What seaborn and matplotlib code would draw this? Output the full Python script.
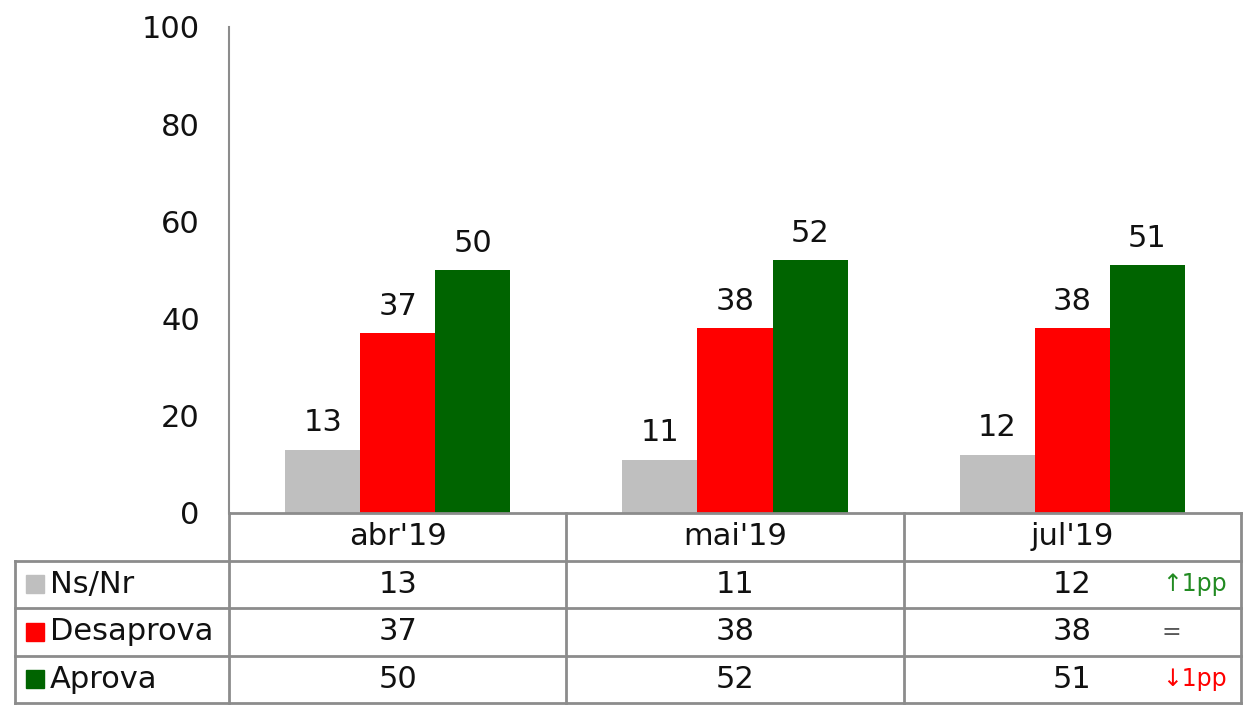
import pandas as pd
import matplotlib.pyplot as plt
import matplotlib.transforms as mtransforms
import seaborn as sns

# data
meses = ["abr'19", "mai'19", "jul'19"]
series = ["Ns/Nr", "Desaprova", "Aprova"]
ns_nr = [13, 11, 12]
desaprova = [37, 38, 38]
aprova = [50, 52, 51]
variacao = ["\u21911pp", "=", "\u21931pp"]
cores = ["#BFBFBF", "#FF0000", "#006400"]
cores_var = ["#228B22", "#595959", "#FF0000"]

df = pd.DataFrame({
    "mes": meses * 3,
    "serie": [s for s in series for _ in meses],
    "valor": ns_nr + desaprova + aprova,
})

sns.set_theme(style="white")
plt.rcParams['font.family'] = ['DejaVu Sans']
FS = 22
GRID = "#8C8C8C"
TXT = "#111111"

fig = plt.figure(figsize=(12.43, 7.06), dpi=100)
ax = fig.add_axes([229 / 1243, 193 / 706, 1012 / 1243, 486 / 706])

sns.barplot(data=df, x="mes", y="valor", hue="serie", order=meses, hue_order=series,
            palette=cores, width=0.667, linewidth=0, saturation=1, ax=ax, legend=False)

for cont in ax.containers:
    ax.bar_label(cont, fmt="%d", padding=9, fontsize=FS, color=TXT)

ax.set_ylim(0, 100)
ax.set_xlim(-0.5, 2.5)
ax.set_yticks(range(0, 101, 20))
ax.tick_params(axis="y", labelsize=FS, pad=21, length=0, colors=TXT)
ax.set_xticks([])
ax.set_xlabel("")
ax.set_ylabel("")
for s in ["top", "right", "bottom"]:
    ax.spines[s].set_visible(False)
ax.spines["left"].set_color(GRID)
ax.spines["left"].set_linewidth(1.5)

# data table under the chart
ppx = 1 / 486  # one pixel in axes fraction (vertical)
row_h = 47.5 * ppx
x_lab = -214 / 1012
lw = 2
kw = dict(color=GRID, lw=lw, transform=ax.transAxes, clip_on=False, solid_capstyle="projecting")
n_rows = len(series) + 1
# horizontal lines
ax.plot([0, 1], [0, 0], **kw)
for i in range(1, n_rows + 1):
    ax.plot([x_lab, 1], [-i * row_h, -i * row_h], **kw)
# vertical lines
ax.plot([x_lab, x_lab], [-row_h, -n_rows * row_h], **kw)
for k in range(len(meses) + 1):
    xf = k / len(meses)
    ax.plot([xf, xf], [0, -n_rows * row_h], **kw)

trans = mtransforms.blended_transform_factory(ax.transData, ax.transAxes)
for j, m in enumerate(meses):
    ax.text(j, -0.5 * row_h, m, transform=trans, ha="center", va="center",
            fontsize=FS, color=TXT)

valores = [ns_nr, desaprova, aprova]
for i, (nome, vals, cor) in enumerate(zip(series, valores, cores)):
    yc = -(i + 1.5) * row_h
    ax.plot([x_lab + 20 / 1012], [yc], marker="s", markersize=13, color=cor,
            transform=ax.transAxes, clip_on=False, linestyle="none")
    ax.text(x_lab + 35 / 1012, yc, nome, transform=ax.transAxes, ha="left",
            va="center", fontsize=FS, color=TXT)
    for j, v in enumerate(vals):
        ax.text(j, yc, str(v), transform=trans, ha="center", va="center",
                fontsize=FS, color=TXT)
    ax.text(len(meses) - 1 + 0.265, yc, variacao[i], transform=trans, ha="left",
            va="center", fontsize=17, color=cores_var[i])

fig.savefig("out.png", dpi=100)
